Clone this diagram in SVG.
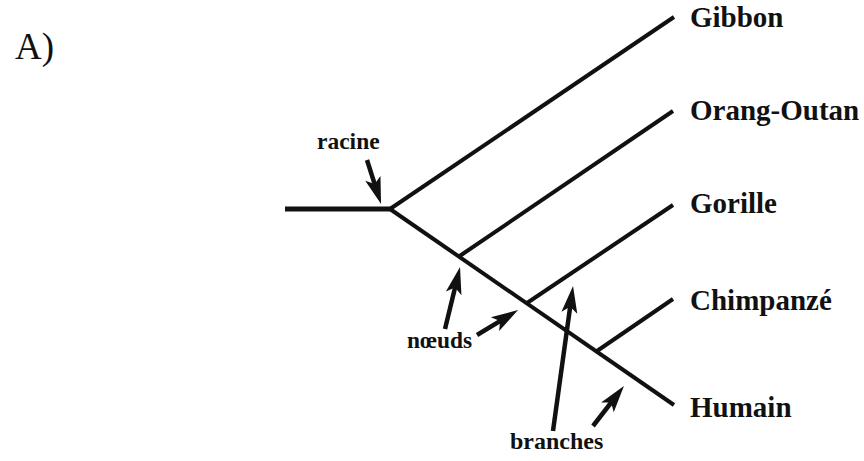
<svg xmlns="http://www.w3.org/2000/svg" width="864" height="461" viewBox="0 0 864 461">
  <style>
    .branch { stroke: #111; stroke-width: 4; stroke-linecap: butt; fill: none; }
    .stem { stroke: #111; stroke-width: 5; fill: none; }
    .pointer { stroke: #111; stroke-width: 4.5; fill: none; marker-end: url(#head); }
    .taxon { font-family: "Liberation Serif", "Times New Roman", serif; font-weight: bold; font-size: 29px; fill: #111; }
    .note { font-family: "Liberation Serif", "Times New Roman", serif; font-weight: bold; font-size: 23.5px; fill: #111; }
    .panel { font-family: "Liberation Serif", "Times New Roman", serif; font-size: 37px; fill: #111; }
  </style>
  <defs>
    <!-- notched arrowhead; the path end sits 12px behind the tip -->
    <marker id="head" markerUnits="userSpaceOnUse" viewBox="-17 -10 31 20" markerWidth="31" markerHeight="20" refX="0" refY="0" orient="auto">
      <path d="M12,0 L-15,-8 L-9,0 L-15,8 Z" fill="#111"/>
    </marker>
  </defs>
  <rect width="864" height="461" fill="#fff"/>

  <text class="panel" x="15" y="59">A)</text>

  <!-- tree -->
  <g id="connectors">
    <line class="stem" x1="285" y1="209" x2="391" y2="209"/>
    <line class="branch" x1="390" y1="209" x2="674" y2="17"/>
    <line class="branch" x1="390" y1="209" x2="674" y2="405"/>
    <line class="branch" x1="459" y1="256.5" x2="673" y2="111"/>
    <line class="branch" x1="527" y1="303" x2="673" y2="205"/>
    <line class="branch" x1="597" y1="351" x2="673" y2="299"/>
  </g>

  <!-- leaf labels -->
  <g id="gibbon"><text class="taxon" x="690" y="27">Gibbon</text></g>
  <g id="orang-outan"><text class="taxon" x="690" y="120">Orang-Outan</text></g>
  <g id="gorille"><text class="taxon" x="690" y="213">Gorille</text></g>
  <g id="chimpanze"><text class="taxon" x="690" y="310">Chimpanzé</text></g>
  <g id="humain"><text class="taxon" x="690" y="417">Humain</text></g>

  <!-- annotations -->
  <g id="racine">
    <text class="note" x="317" y="149">racine</text>
    <path class="pointer" d="M367,160 L377.4,192.6"/>
  </g>
  <g id="noeuds">
    <text class="note" x="407" y="348" textLength="65" lengthAdjust="spacingAndGlyphs">nœuds</text>
    <path class="pointer" d="M445,329 L457.2,278.7"/>
    <path class="pointer" d="M477,335 L507.8,316.3"/>
  </g>
  <g id="branches">
    <text class="note" x="510" y="449" style="font-size:24px">branches</text>
    <path class="pointer" d="M553,431 L571.4,297.9"/>
    <path class="pointer" d="M593,426 L616.6,395.5"/>
  </g>
</svg>
